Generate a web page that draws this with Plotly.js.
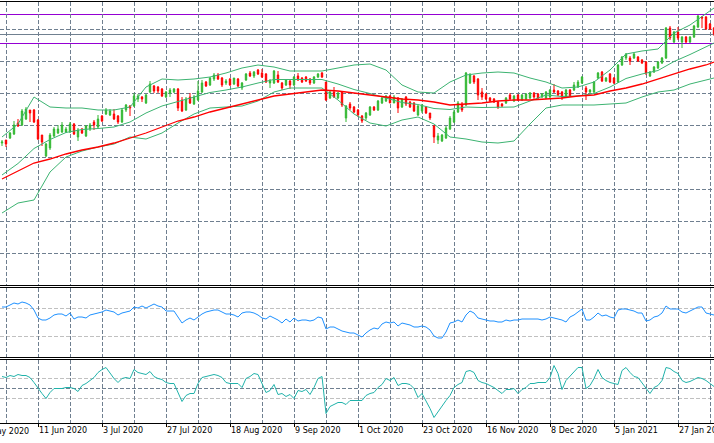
<!DOCTYPE html>
<html>
<head>
<meta charset="utf-8">
<script src="https://cdn.plot.ly/plotly-3.0.1.min.js"></script>
<style>
  html, body { margin: 0; padding: 0; background: #ffffff; }
  #chart { width: 714px; height: 443px; }
</style>
</head>
<body>
<div id="chart"></div>
<script>
// ---------- DATA ----------
// daily bars, one per trading day, indexed 0..178 from the left edge
const open = [
  157,160,162,166,177,175,181,190,190,180,
  165,144,152,164,167,168,168,168,176,163,
  171,164,171,178,173,184,186,185,186,184,
  178,190,194,194,201,203,197,208,214,213,
  211,203,207,208,211,200,190,203,196,200,
  208,218,215,221,225,222,217,221,216,221,
  212,220,227,224,230,227,226,217,217,225,
  217,215,219,215,224,222,223,221,217,223,
  227,218,202,208,202,208,182,196,193,190,
  184,182,185,193,190,197,199,204,197,202,
  193,203,198,197,185,189,193,187,174,160,
  159,162,171,178,188,196,195,217,224,221,
  208,206,202,201,198,196,197,205,199,205,
  200,201,202,207,206,203,202,203,210,209,
  208,203,210,210,213,217,212,208,208,222,
  228,219,226,222,218,235,242,242,242,243,
  240,238,224,228,232,237,242,272,258,268,
  258,263,258,263,273,283,283,276,272
];
const high = [
  160,160,168,179,181,191,193,190,191,181,
  165,157,167,173,175,178,173,178,177,172,
  172,175,177,180,185,185,192,191,191,185,
  192,196,195,207,206,204,206,219,215,214,
  212,209,212,212,212,203,203,207,205,219,
  220,219,223,227,227,223,221,222,222,222,
  218,227,229,229,231,231,227,221,230,229,
  218,221,221,224,227,223,224,222,224,227,
  228,218,209,213,208,209,195,198,194,191,
  185,188,194,194,200,203,205,205,205,203,
  202,204,199,198,195,196,194,187,175,167,
  166,174,184,190,199,198,228,227,225,222,
  212,207,203,202,199,197,203,207,205,206,
  206,207,208,208,207,207,209,211,216,210,
  209,211,211,218,220,224,214,211,219,228,
  229,223,227,223,236,244,247,244,247,244,
  241,239,229,234,239,243,273,274,269,273,
  264,264,264,275,285,284,284,277,273
];
const low = [
  154,153,161,165,173,174,180,178,177,160,
  154,143,150,163,166,167,167,167,165,159,
  166,163,169,170,172,178,185,184,180,176,
  177,188,184,193,198,198,196,207,207,207,
  203,202,203,207,189,188,189,196,195,199,
  207,213,214,219,220,213,215,214,215,213,
  210,219,223,222,225,222,217,212,216,217,
  210,214,211,214,219,217,218,215,216,222,
  222,199,201,202,201,193,178,190,187,183,
  177,180,184,189,189,196,198,197,197,187,
  192,194,192,188,184,187,186,180,157,156,
  158,161,170,177,187,188,194,216,216,200,
  200,200,198,197,191,193,196,200,198,199,
  199,200,201,201,201,202,201,202,207,204,
  200,202,203,209,212,216,200,207,207,221,
  218,218,217,216,217,234,240,235,241,238,
  236,225,223,227,231,236,241,260,257,260,
  252,257,257,262,272,272,270,270,264
];
const close = [
  158,156,167,175,174,189,191,187,178,161,
  158,156,165,171,171,175,171,176,166,170,
  167,174,175,175,181,179,190,189,181,178,
  190,195,192,204,204,201,205,216,209,209,
  204,208,210,211,192,189,201,197,203,209,
  217,214,222,225,221,215,219,215,222,214,
  217,226,224,228,226,223,218,219,229,218,
  212,220,215,223,220,218,219,217,223,226,
  223,200,208,203,207,195,194,192,188,185,
  179,187,193,190,199,202,204,197,203,192,
  201,196,193,189,194,195,187,182,163,164,
  165,172,182,188,197,190,227,225,218,205,
  203,201,199,198,193,194,202,201,204,200,
  205,206,207,203,202,206,208,210,208,205,
  203,210,204,215,218,223,208,210,218,227,
  219,222,218,217,235,243,246,239,246,239,
  237,227,228,233,238,242,272,262,268,262,
  263,258,263,274,284,282,271,271,266
];

// Bollinger bands and moving average, read at these bar positions
const bandIdx = [0,4,8,12,16,20,24,28,32,36,40,44,48,52,56,60,64,68,72,76,80,84,88,92,96,100,104,108,112,116,120,124,128,132,136,140,144,148,152,156,160,164,166,168,172,176,178];
const bandUpper = [163,176,203,193,192,192,190,190,193,213, 221,220,221,223,227,232,235,233,229,229, 229,232,235,236,230,215,208,207,218,225, 227,228,227,222,218,212,213,218,230,246, 249,251,259,267,275,286,292];
const bandMiddle = [125,136.5,151.5,160.5,167.5,170.5,171.5,173,178,187, 194,198.5,203.5,207.5,210,213,217,220.5,220.5,220.5, 220.5,216,210.5,206.5,202,197.5,195.5,191.5,190.5,193, 192.5,192.5,193,199,205,203.5,204,206.5,213,221.5, 226,229.5,234,238.5,245.5,253,257];
const bandLower = [87,97,100,128,143,149,153,156,163,161, 167,177,186,192,193,194,199,208,212,212, 212,200,186,177,174,180,183,176,163,161, 158,157,159,176,192,195,195,195,196,197, 203,208,209,210,216,220,222];
const movingAvg = [121,129,137,141,146,150,153,157,162,167, 173,179,183,188,192,196,200,204,206,208, 210,209,207,205,203,201,200,198,195,196, 197,199,200,200,201,202,204,205,209,212, 216,221,223,226,231,235,238];

// horizontal level lines on the price panel
const violetLevels = [285.5, 256.5];
const greyLevel = [265.5];
const priceGrid = [46.5, 78.5, 110.5, 142.5, 174.5, 206.5, 238.5, 270.5];

// first oscillator panel (blue), one value per bar
const osc1 = [
  53,53,55,57,56,58,57,55,50,42,
  40,40,42,45,46,46,44,47,41,43,
  43,42,45,46,47,48,50,49,48,45,
  47,48,49,53,52,54,52,54,56,54,
  53,49,49,49,43,37,40,42,40,43,
  46,48,49,50,50,48,46,46,45,43,
  47,48,48,47,45,42,41,44,42,40,
  37,41,38,42,39,40,40,39,40,43,
  42,31,33,33,31,29,28,27,27,25,
  23,27,30,32,31,36,38,37,38,34,
  37,36,35,33,33,34,33,30,24,22,
  22,28,37,38,40,38,45,49,47,42,
  41,40,39,39,38,38,40,39,40,40,
  41,41,41,41,41,40,41,43,42,41,
  40,38,43,45,48,51,40,40,43,47,
  44,45,43,42,50,51,51,50,49,47,
  47,39,40,43,44,47,54,51,51,51,
  48,47,49,51,53,53,47,46,45
];
const osc1Levels = [51.5, 23.5];

// second oscillator panel (teal, CCI-like), one value per bar
const osc2 = [
  120,110,130,120,140,130,130,110,60,0,
  -50,-100,-40,0,0,0,10,10,0,-30,
  30,50,80,110,160,190,210,150,100,60,
  100,110,100,190,160,150,140,170,120,100,
  90,60,50,50,-40,-130,-70,-50,-50,50,
  110,120,130,140,130,110,60,50,50,50,
  10,100,120,150,140,50,-40,-20,40,-60,
  -50,-80,-60,-100,-20,-30,-10,-60,10,100,
  120,-250,-180,-160,-140,-140,-160,-120,-120,-120,
  -120,-70,-50,-40,10,40,100,80,110,30,
  50,50,40,0,-90,-50,-120,-200,-290,-230,
  -170,-120,-70,10,40,60,170,180,160,80,
  60,50,30,10,-20,-50,-10,-10,0,-50,
  -10,10,50,50,60,60,60,110,230,150,
  -10,80,120,160,210,210,0,30,100,190,
  110,80,60,50,40,180,210,160,120,110,
  60,10,-50,10,30,80,210,200,170,150,
  80,60,70,90,110,100,80,50,20
];
const osc2Levels = [100, -100];

// date labels and their bar positions
const dateLabels = ["11 Jun 2020","3 Jul 2020","27 Jul 2020","18 Aug 2020","9 Sep 2020","1 Oct 2020","23 Oct 2020","16 Nov 2020","8 Dec 2020","5 Jan 2021","27 Jan 2021"];
const dateIdx = [9,25,41,57,73,89,105,121,137,153,169];
const clippedLabel = "20 May 2020";
const clippedIdx = -7;
const minorGridIdx = [1,17,33,49,65,81,97,113,129,145,161,177];

// ---------- CHART ----------
const barIdx = open.map((_, i) => i);
const GRID = '#6f7f90';
const DASH = '4px,2px';
const H = 423; // plot area height in px (margin b = 20)
const fy = p => (H - p) / H;   // paper fraction for a pixel row from the top

const traces = [
  {type: 'scatter', mode: 'lines', x: bandIdx, y: bandUpper, xaxis: 'x', yaxis: 'y',
   line: {color: '#3cb371', width: 1}, hoverinfo: 'skip'},
  {type: 'scatter', mode: 'lines', x: bandIdx, y: bandMiddle, xaxis: 'x', yaxis: 'y',
   line: {color: '#3cb371', width: 1}, hoverinfo: 'skip'},
  {type: 'scatter', mode: 'lines', x: bandIdx, y: bandLower, xaxis: 'x', yaxis: 'y',
   line: {color: '#3cb371', width: 1}, hoverinfo: 'skip'},
  {type: 'scatter', mode: 'lines', x: bandIdx, y: movingAvg, xaxis: 'x', yaxis: 'y',
   line: {color: '#ff0000', width: 1.3}, hoverinfo: 'skip'},
  {type: 'candlestick', x: barIdx, open: open, high: high, low: low, close: close,
   xaxis: 'x', yaxis: 'y', whiskerwidth: 0,
   increasing: {line: {color: '#33b833', width: 1}, fillcolor: '#33b833'},
   decreasing: {line: {color: '#ff0000', width: 1}, fillcolor: '#ff0000'},
   hoverinfo: 'skip'},
  {type: 'scatter', mode: 'lines', x: barIdx, y: osc1, xaxis: 'x', yaxis: 'y2',
   line: {color: '#1e90ff', width: 1}, hoverinfo: 'skip'},
  {type: 'scatter', mode: 'lines', x: barIdx, y: osc2, xaxis: 'x', yaxis: 'y3',
   line: {color: '#20b2aa', width: 1}, hoverinfo: 'skip'}
];

const shapes = [];
// panel borders / separators
[1.5, 285.5, 287.5, 357.5, 359.5].forEach(p => shapes.push({
  type: 'line', xref: 'paper', yref: 'paper', x0: 0, x1: 1, y0: fy(p), y1: fy(p),
  line: {color: '#000000', width: 1}, layer: 'above'}));
violetLevels.forEach(v => shapes.push({
  type: 'line', xref: 'paper', yref: 'y', x0: 0, x1: 1, y0: v, y1: v,
  line: {color: '#9400d3', width: 1}, layer: 'between'}));
greyLevel.forEach(v => shapes.push({
  type: 'line', xref: 'paper', yref: 'y', x0: 0, x1: 1, y0: v, y1: v,
  line: {color: '#708090', width: 1}, layer: 'between'}));
osc1Levels.forEach(v => shapes.push({
  type: 'line', xref: 'paper', yref: 'y2', x0: 0, x1: 1, y0: v, y1: v,
  line: {color: '#c0c0c0', width: 1, dash: DASH}, layer: 'between'}));
osc2Levels.forEach(v => shapes.push({
  type: 'line', xref: 'paper', yref: 'y3', x0: 0, x1: 1, y0: v, y1: v,
  line: {color: '#c0c0c0', width: 1, dash: DASH}, layer: 'between'}));

const tickFont = {family: 'DejaVu Sans', size: 8, color: '#000000'};

const layout = {
  width: 714, height: 443,
  margin: {l: 0, r: 0, t: 0, b: 20, pad: 0},
  paper_bgcolor: '#ffffff', plot_bgcolor: '#ffffff',
  showlegend: false,
  boxgap: 0.5,
  font: tickFont,
  xaxis: {
    range: [-0.5, 178], anchor: 'y3', fixedrange: true,
    rangeslider: {visible: false},
    tickmode: 'array', tickvals: dateIdx, ticktext: dateLabels,
    ticklabelposition: 'outside right', ticklabeloverflow: 'allow',
    ticks: 'outside', ticklen: 3, tickwidth: 1, tickcolor: '#000000',
    tickfont: tickFont,
    showgrid: true, gridcolor: GRID, griddash: DASH, gridwidth: 1,
    minor: {tickvals: minorGridIdx, showgrid: true, gridcolor: GRID, griddash: DASH, gridwidth: 1, ticks: ''},
    showline: true, linecolor: '#000000', linewidth: 1,
    zeroline: false
  },
  yaxis: {
    domain: [fy(285.5), fy(1.5)], range: [14.5, 298.5], anchor: 'x', fixedrange: true,
    tickmode: 'array', tickvals: priceGrid, showticklabels: false, ticks: '',
    showgrid: true, gridcolor: GRID, griddash: DASH, gridwidth: 1, zeroline: false
  },
  yaxis2: {
    domain: [fy(357.5), fy(287.5)], range: [2.5, 72.5], anchor: 'x', fixedrange: true,
    showgrid: false, showticklabels: false, ticks: '', zeroline: false
  },
  yaxis3: {
    domain: [fy(422.5), fy(359.5)], range: [-340, 290], anchor: 'x', fixedrange: true,
    tickmode: 'array', tickvals: [0], showticklabels: false, ticks: '',
    showgrid: true, gridcolor: GRID, griddash: DASH, gridwidth: 1, zeroline: false
  },
  shapes: shapes,
  annotations: [{
    text: clippedLabel, xref: 'paper', yref: 'paper',
    x: (clippedIdx + 0.5) / 178.5, y: fy(432), xanchor: 'left', yanchor: 'middle',
    xshift: 1, showarrow: false, font: tickFont
  }]
};

Plotly.newPlot('chart', traces, layout, {displayModeBar: false, staticPlot: true});
</script>
</body>
</html>
